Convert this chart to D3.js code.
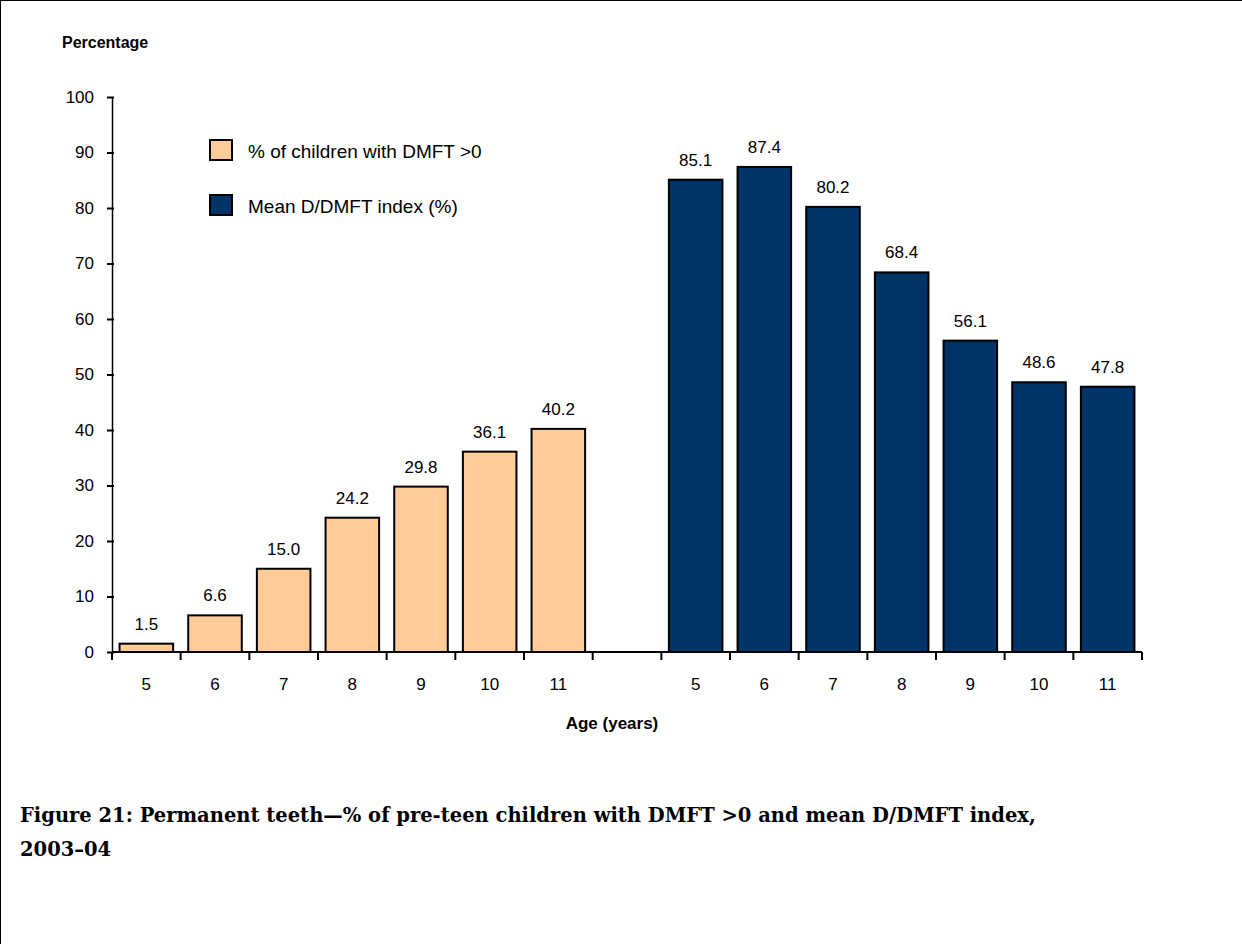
<!DOCTYPE html>
<html><head><meta charset="utf-8">
<script src="https://cdn.jsdelivr.net/npm/d3@7"></script>
<style>body{margin:0;background:#fff}</style>
</head><body>
<svg id="chart" width="1242" height="944" font-family="Liberation Sans, Arial, sans-serif"></svg>
<script>
// ages on the x axis, same for both groups
var ages = ["5", "6", "7", "8", "9", "10", "11"];
var pctDmft = [1.5, 6.6, 15.0, 24.2, 29.8, 36.1, 40.2];
var meanDdmft = [85.1, 87.4, 80.2, 68.4, 56.1, 48.6, 47.8];
var yTicks = [0, 10, 20, 30, 40, 50, 60, 70, 80, 90, 100];
var legendLabels = ["% of children with DMFT >0", "Mean D/DMFT index (%)"];
var colors = ["#FFCC99", "#003366"];

// 15 slots: 7 ages, one empty, 7 ages
var slots = ages.map(a => "a" + a).concat(["gap"]).concat(ages.map(a => "b" + a));

var svg = d3.select("#chart");
svg.append("rect").attr("x", 0.5).attr("y", 0.5).attr("width", 1250).attr("height", 1000)
  .attr("fill", "none").attr("stroke", "#000");

var y = d3.scaleLinear().domain([0, 100]).range([652, 97]);
var x = d3.scaleBand().domain(slots).range([112, 1142]).paddingInner(0.22).paddingOuter(0.11);

// y axis
var yAxis = svg.append("g").attr("transform", "translate(112,0)")
  .call(d3.axisLeft(y).tickValues(yTicks).tickSize(6).tickSizeOuter(0));
yAxis.select(".domain").attr("stroke", "#000").attr("stroke-width", 1.5);
yAxis.selectAll(".tick line").attr("stroke-width", 2).attr("x1", -5).attr("x2", 2);
yAxis.selectAll("text").attr("font-size", 17).attr("x", -18).attr("fill", "#000")
  .attr("font-family", null);

// bars
function drawBars(prefix, vals, color) {
  var g = svg.append("g");
  g.selectAll("rect").data(vals).enter().append("rect")
    .attr("x", (d, i) => x(prefix + ages[i]))
    .attr("width", x.bandwidth())
    .attr("y", d => y(d))
    .attr("height", d => y(0) - y(d))
    .attr("fill", color).attr("stroke", "#000").attr("stroke-width", 2);
  g.selectAll("text").data(vals).enter().append("text")
    .attr("x", (d, i) => x(prefix + ages[i]) + x.bandwidth() / 2)
    .attr("y", d => y(d) - 14)
    .attr("text-anchor", "middle").attr("font-size", 17)
    .text(d => d.toFixed(1));
  g.selectAll(".lbl").data(ages).enter().append("text")
    .attr("x", d => x(prefix + d) + x.bandwidth() / 2)
    .attr("y", 690).attr("text-anchor", "middle").attr("font-size", 17)
    .text(d => d);
}
drawBars("a", pctDmft, colors[0]);
drawBars("b", meanDdmft, colors[1]);

// x baseline and slot ticks
svg.append("line").attr("x1", 112).attr("x2", 1142).attr("y1", y(0)).attr("y2", y(0))
  .attr("stroke", "#000").attr("stroke-width", 2);
var xt = slots.map(s => x(s) - x.step() * x.paddingInner() / 2).concat([1142]);
svg.append("g").selectAll("line").data(xt).enter().append("line")
  .attr("x1", d => d).attr("x2", d => d).attr("y1", y(0)).attr("y2", y(0) + 8)
  .attr("stroke", "#000").attr("stroke-width", 2);

// titles
svg.append("text").attr("x", 62).attr("y", 48).attr("font-size", 16).attr("font-weight", "bold").text("Percentage");
svg.append("text").attr("x", 612).attr("y", 729).attr("text-anchor", "middle").attr("font-size", 17)
  .attr("font-weight", "bold").text("Age (years)");

// legend
legendLabels.forEach((l, i) => {
  svg.append("rect").attr("x", 210).attr("y", 140 + i * 55).attr("width", 22).attr("height", 20)
    .attr("fill", colors[i]).attr("stroke", "#000").attr("stroke-width", 2);
  svg.append("text").attr("x", 248).attr("y", 158 + i * 55).attr("font-size", 19).text(l);
});

// caption
var cap = svg.append("text").attr("font-family", "DejaVu Serif, serif").attr("font-size", 19.5)
  .attr("font-weight", "bold");
cap.append("tspan").attr("x", 20).attr("y", 822)
  .text("Figure 21: Permanent teeth\u2014% of pre-teen children with DMFT >0 and mean D/DMFT index,");
cap.append("tspan").attr("x", 20).attr("y", 856).text("2003\u201304");
</script>
</body></html>
